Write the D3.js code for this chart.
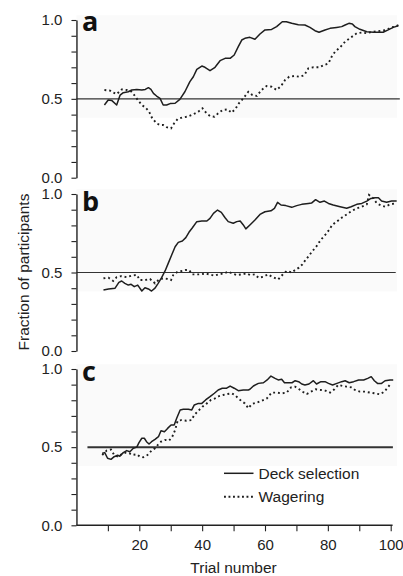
<!DOCTYPE html>
<html><head><meta charset="utf-8">
<script src="https://cdn.jsdelivr.net/npm/d3@7"></script>
<style>body{margin:0;background:#fff}svg{display:block}</style>
</head><body>
<svg id="chart" width="403" height="576"></svg>
<script>
// ---------- data ----------
const panelLabels = ["a", "b", "c"];
const seriesNames = ["Deck selection", "Wagering"];
const yTicks = [0, 0.1, 0.2, 0.3, 0.4, 0.5, 0.6, 0.7, 0.8, 0.9, 1.0];
const yTickLabels = ["0.0", "0.5", "1.0"];
const xTicks = [10, 20, 30, 40, 50, 60, 70, 80, 90, 100];
const xTickLabels = ["20", "40", "60", "80", "100"];
const refValue = 0.5;
const refStart = [0, 0, 3.5];
const refEnd = [102.9, 101.6, 100.7];

const aDeckT = [8.9,10.1,11.2,12.8,13.9,14.9,16.5,17.6,19.2,20.8,21.9,22.9,23.7,24.5,25.5,26.6,27.6,28.7,29.8,31.4,32.9,34.5,36.1,37.2,38.3,39.9,40.9,42.5,44.1,45.7,47.3,48.9,50.2,51.5,52.6,53.6,55.2,56.8,58.4,60,62.1,63.7,65.5,66.8,68.5,70.6,72.7,74.3,75.9,77.2,79.1,80.7,82.8,84.4,85.5,86.7,87.8,88.6,90.2,92.4,94.5,97.6,99.2,100.8,102.4];
const aDeckV = [.461,.493,.49,.461,.524,.539,.545,.556,.56,.556,.56,.571,.56,.535,.518,.503,.461,.461,.47,.472,.497,.545,.609,.64,.687,.708,.70,.679,.70,.742,.757,.757,.778,.831,.873,.884,.89,.878,.911,.937,.94,.958,.989,.989,.979,.97,.968,.953,.932,.922,.937,.947,.953,.958,.968,.979,.975,.958,.941,.926,.922,.922,.937,.953,.964];
const aWagerT = [8.9,10.7,11.8,12.8,14.4,16,17.4,18.4,19.5,20.8,22,23.1,24.1,25.5,26.6,27.6,28.7,30.1,31.1,32.2,33.7,35.4,37.2,38.8,40.1,41.4,42.5,43.9,45.1,46.5,48.1,49.4,50.7,51.7,53.1,54.7,56,57.4,58.9,60.5,62.1,63.7,65.1,66.4,67.7,69.3,71.1,72.5,73.8,75.4,77.2,78.9,80.2,81.2,82.3,83.9,85.5,87.4,89.2,90.8,92.4,93.9,95.5,97.1,98.7,100.1,101.4,102.6];
const aWagerV = [.556,.552,.539,.53,.56,.556,.548,.524,.493,.461,.444,.419,.377,.345,.334,.334,.32,.313,.345,.372,.382,.387,.402,.419,.44,.408,.391,.387,.408,.429,.433,.412,.44,.472,.503,.545,.524,.518,.556,.581,.577,.556,.581,.62,.64,.645,.64,.65,.694,.70,.70,.715,.725,.767,.799,.827,.863,.89,.916,.92,.916,.924,.928,.932,.937,.953,.958,.968];

const bDeckT = [8.6,10.2,12.3,13.5,14.4,15.4,16.5,17.4,18.4,19.5,20.8,21.8,22.9,23.9,25,26,27.1,28.2,29.2,30.3,31.4,32.4,33.7,34.8,35.8,36.9,38.3,39.9,41.5,42.5,43.6,44.9,46.1,47.3,48.3,49.9,51,52.1,53.1,53.9,55.2,56.8,58.4,60,61.9,63,64,65.1,66.6,68.5,70.1,71.7,73.8,74.8,76.1,77.5,78.9,80.2,81.7,83.9,86,87.4,89.2,90.8,92.4,93.7,95,96.1,97.1,98.7,100.3,101.9];
const bDeckV = [.389,.395,.40,.437,.446,.431,.42,.425,.41,.42,.382,.403,.395,.382,.40,.431,.467,.51,.558,.611,.664,.692,.701,.722,.756,.785,.824,.828,.828,.845,.877,.898,.883,.849,.824,.814,.824,.828,.803,.778,.803,.834,.87,.887,.893,.909,.947,.93,.926,.915,.926,.934,.94,.942,.964,.947,.955,.94,.93,.919,.909,.919,.934,.94,.955,.972,.976,.976,.955,.947,.955,.955];
const bWagerT = [8.6,10.2,11.7,12.8,14.2,16,17.6,19.2,20.2,21.8,23.4,25,26.3,27.7,29,30.1,30.8,32.2,33.7,34.8,35.8,36.9,38.3,39.7,41,42.3,43.9,45.2,46.8,48.3,49.6,51,52.6,54.2,55.2,56.8,57.9,59.5,60.9,62.3,64.2,65.5,66.9,68.5,69.6,70.8,71.9,72.9,74,75.1,76.1,77.2,78.2,79.3,80.4,81.4,82.8,84.4,86,87.6,89.2,90.8,92.4,93.1,94.5,95.6,97.1,98.2,99.8,101.4];
const bWagerV = [.463,.467,.446,.47,.477,.47,.48,.485,.452,.452,.459,.431,.456,.463,.459,.452,.484,.505,.51,.516,.516,.488,.488,.488,.494,.488,.48,.488,.494,.505,.494,.484,.488,.494,.484,.488,.467,.473,.488,.473,.456,.484,.51,.50,.516,.531,.552,.58,.607,.637,.658,.692,.718,.743,.771,.803,.824,.849,.87,.892,.909,.919,.934,.994,.972,.94,.926,.919,.934,.94];

const cDeckT = [8.2,9,9.9,11,12,13.1,13.8,14.9,16,17,18.1,19.2,19.9,20.8,21.6,22.3,23.1,23.9,25,26.1,26.9,28,29,30.1,31.1,31.9,33,34,35.6,36.7,37.5,38.8,39.9,41.1,42.5,43.9,45.1,46.4,47.8,48.9,50.2,51.5,53.1,54.7,55.2,56.3,57.9,59.5,60.9,61.9,63.2,64.2,65.3,66.2,67.5,68.6,69.6,70.7,71.7,72.7,74,75.4,76.4,77.8,79.1,80.2,81.5,82.9,84.4,85.5,86.8,88.2,89.8,91.4,92.7,93.8,94.8,95.8,97.1,98.2,99.8,100.8];
const cDeckV = [.461,.465,.429,.422,.439,.448,.442,.465,.478,.471,.493,.50,.529,.557,.557,.535,.52,.535,.55,.567,.605,.599,.62,.642,.642,.685,.738,.742,.742,.738,.77,.78,.78,.802,.823,.845,.866,.877,.877,.891,.877,.861,.866,.866,.87,.891,.908,.912,.934,.955,.94,.93,.934,.912,.912,.912,.925,.919,.904,.898,.904,.925,.904,.919,.919,.908,.898,.908,.919,.925,.912,.919,.93,.93,.94,.951,.925,.908,.908,.925,.93,.93];
const cWagerT = [8.2,9.6,11,12,13.3,14.4,15.7,16.8,17.8,19.2,20.2,21.2,22.6,23.9,25,26.1,26.9,28.2,29.5,30.5,31.4,32.2,33.4,35,36.6,37.5,38.8,40.1,41.5,42.8,44.1,45.4,46.7,48.1,49.4,50.4,51.5,52.8,53.6,54.7,55.8,57.4,59,60.6,62.1,63.7,65.3,66.9,68.3,69.6,70.9,71.9,73.3,74.6,76.1,77.8,79.3,80.7,82.1,83.3,84.9,86,87.4,88.6,90.2,91.8,93.4,95,96.6,98,99.1,100.2];
const cWagerV = [.45,.478,.485,.45,.439,.456,.465,.461,.45,.454,.439,.435,.45,.478,.493,.52,.535,.546,.542,.567,.61,.669,.673,.669,.673,.706,.733,.759,.78,.802,.812,.827,.834,.84,.844,.834,.812,.791,.78,.749,.776,.785,.797,.812,.849,.849,.844,.849,.883,.887,.87,.855,.84,.855,.87,.866,.861,.849,.87,.898,.891,.887,.883,.866,.855,.855,.849,.844,.838,.855,.883,.912];

// ---------- layout ----------
const panelTops = [20, 194, 369];
const panelBottoms = [177.7, 351, 525.3];
const letterBaselines = [31, 211, 381];
const FONT = "'Liberation Sans', Arial, Helvetica, sans-serif";
const INK = "#1e1e1e";

const svg = d3.select("#chart");
const x = d3.scaleLinear().domain([0, 100]).range([76.45, 390.7]);

const panels = [
  {deckT: aDeckT, deckV: aDeckV, wagT: aWagerT, wagV: aWagerV},
  {deckT: bDeckT, deckV: bDeckV, wagT: bWagerT, wagV: bWagerV},
  {deckT: cDeckT, deckV: cDeckV, wagT: cWagerT, wagV: cWagerV}
];

panels.forEach((p, i) => {
  const y = d3.scaleLinear().domain([0, 1]).range([panelBottoms[i], panelTops[i]]);
  const g = svg.append("g");

  // faint background tint
  g.append("rect")
    .attr("x", x(0)).attr("y", y(1.03))
    .attr("width", x(102) - x(0)).attr("height", y(0.38) - y(1.03))
    .attr("fill", "#fafafa");

  // reference line
  g.append("line")
    .attr("x1", x(refStart[i])).attr("x2", x(refEnd[i]))
    .attr("y1", y(refValue)).attr("y2", y(refValue))
    .attr("stroke", "#333").attr("stroke-width", i === 2 ? 2 : 1.2);

  // y axis
  const ax = g.append("g").attr("transform", `translate(${x(0)},0)`)
    .call(d3.axisLeft(y).tickValues(yTicks).tickSize(5).tickSizeOuter(0).tickPadding(9)
      .tickFormat(d => {
        const s = d3.format(".1f")(d);
        return yTickLabels.includes(s) ? s : "";
      }));
  ax.select(".domain").attr("stroke", "#222").attr("stroke-width", 1.4);
  ax.selectAll(".tick line").attr("stroke", "#222").attr("stroke-width", 1.1);
  ax.selectAll(".tick text").attr("font-family", FONT).attr("font-size", 15).attr("fill", "#222");

  const line = d3.line().x(d => x(d[0])).y(d => y(d[1])).curve(d3.curveLinear);
  const deck = p.deckT.map((t, k) => [t, p.deckV[k]]);
  const wag = p.wagT.map((t, k) => [t, p.wagV[k]]);

  g.append("path").datum(wag).attr("d", line)
    .attr("fill", "none").attr("stroke", INK).attr("stroke-width", 1.9)
    .attr("stroke-dasharray", "1.9,2.9");
  g.append("path").datum(deck).attr("d", line)
    .attr("fill", "none").attr("stroke", INK).attr("stroke-width", 1.5)
    .attr("stroke-linejoin", "round");

  // panel letter
  g.append("text").attr("x", 82).attr("y", letterBaselines[i])
    .attr("font-family", "'Open Sans', 'DejaVu Sans', sans-serif")
    .attr("font-weight", 700).attr("font-size", 27).attr("fill", "#111")
    .text(panelLabels[i]);

  if (i === 2) {
    const xa = g.append("g").attr("transform", `translate(0,${y(0)})`)
      .call(d3.axisBottom(x).tickValues(xTicks).tickSize(6).tickSizeOuter(0).tickPadding(8)
        .tickFormat(d => xTickLabels.includes(String(d)) ? String(d) : ""));
    xa.select(".domain").attr("stroke", "#222").attr("stroke-width", 1.5)
      .attr("d", `M${x(0)},0H${x(100.6)}`);
    xa.selectAll(".tick line").attr("stroke", "#222").attr("stroke-width", 1.1);
    xa.selectAll(".tick text").attr("font-family", FONT).attr("font-size", 15).attr("fill", "#222");

    // legend
    const legY = [473.3, 496.7];
    seriesNames.forEach((name, k) => {
      g.append("line").attr("x1", 224).attr("x2", 253.5)
        .attr("y1", legY[k]).attr("y2", legY[k])
        .attr("stroke", INK).attr("stroke-width", k === 0 ? 1.5 : 1.9)
        .attr("stroke-dasharray", k === 0 ? null : "1.9,2.6");
      g.append("text").attr("x", 258.5).attr("y", legY[k] + 5.5)
        .attr("font-family", FONT).attr("font-size", 15.5).attr("fill", "#222")
        .text(name);
    });
  }
});

// axis titles
svg.append("text").attr("x", x(50)).attr("y", 572.5).attr("text-anchor", "middle")
  .attr("font-family", FONT).attr("font-size", 15.5).attr("fill", "#222").text("Trial number");
svg.append("text").attr("transform", "translate(28.5,272) rotate(-90)").attr("text-anchor", "middle")
  .attr("font-family", FONT).attr("font-size", 15.5).attr("fill", "#222").text("Fraction of participants");
</script>
</body></html>
